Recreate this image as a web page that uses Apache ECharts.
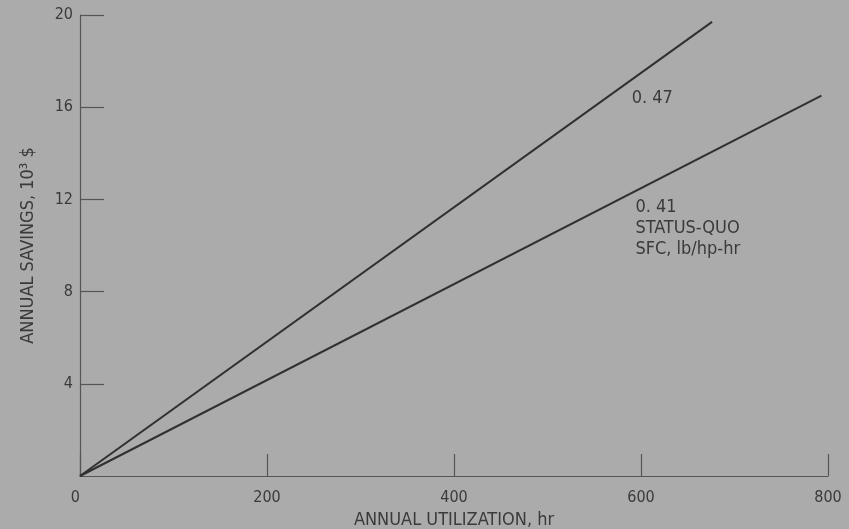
<!DOCTYPE html>
<html><head><meta charset="utf-8">
<script src="https://cdn.jsdelivr.net/npm/echarts@6/dist/echarts.min.js"></script>
<style>html,body{margin:0;padding:0;background:#ababab;}#c{width:849px;height:529px;}</style>
</head><body><div id="c"></div>
<script>
// data
const sfc047 = [[0, 0], [676, 19.7]];
const sfc041 = [[0, 0], [793, 16.5]];
const xTicks = [0, 200, 400, 600, 800];
const yTicks = [0, 4, 8, 12, 16, 20];
const ann047 = {x: 590, y: 16.4, text: '0. 47'};
const ann041 = {x: 594, y: 12.1, text: '0. 41\nSTATUS-QUO\nSFC, lb/hp-hr'};

const FONT = '"Liberation Sans Narrow","DejaVu Sans Condensed","Liberation Sans",sans-serif';
const TXT = '#3a3a3a';
const chart = echarts.init(document.getElementById('c'));
const axisCommon = {
  axisLine: {show: true, lineStyle: {color: '#555', width: 1.2}},
  axisTick: {show: true, inside: true, lineStyle: {color: '#555', width: 1.2}},
  splitLine: {show: false},
  axisLabel: {color: TXT, fontFamily: FONT, fontSize: 16},
  nameTextStyle: {color: TXT, fontFamily: FONT, fontSize: 18}
};
chart.setOption({
  backgroundColor: '#ababab',
  animation: false,
  grid: {left: 80, right: 21, top: 15, bottom: 53, containLabel: false, outerBoundsMode: 'none'},
  xAxis: Object.assign({}, axisCommon, {
    type: 'value', min: xTicks[0], max: xTicks[xTicks.length - 1], interval: 200,
    name: 'ANNUAL UTILIZATION, hr', nameLocation: 'middle', nameGap: 34,
    axisTick: Object.assign({}, axisCommon.axisTick, {length: 22}),
    axisLabel: Object.assign({}, axisCommon.axisLabel, {margin: 14, alignMinLabel: 'right'})
  }),
  yAxis: Object.assign({}, axisCommon, {
    type: 'value', min: yTicks[0], max: yTicks[yTicks.length - 1], interval: 4,
    name: 'ANNUAL SAVINGS, 10³ $', nameLocation: 'middle', nameGap: 43,
    axisTick: Object.assign({}, axisCommon.axisTick, {length: 24}),
    axisLabel: Object.assign({}, axisCommon.axisLabel, {margin: 7, showMinLabel: false})
  }),
  series: [
    {type: 'line', data: sfc047, symbol: 'none', lineStyle: {color: '#303030', width: 2}},
    {type: 'line', data: sfc041, symbol: 'none', lineStyle: {color: '#303030', width: 2}}
  ]
});
function place(a, va) {
  const p = chart.convertToPixel({gridIndex: 0}, [a.x, a.y]);
  return {type: 'text', x: p[0], y: p[1],
    style: {text: a.text, fill: TXT, font: '18px ' + FONT, lineHeight: 21, verticalAlign: va, textVerticalAlign: va}};
}
chart.setOption({graphic: [place(ann047, 'middle'), place(ann041, 'top')]});
</script></body></html>
